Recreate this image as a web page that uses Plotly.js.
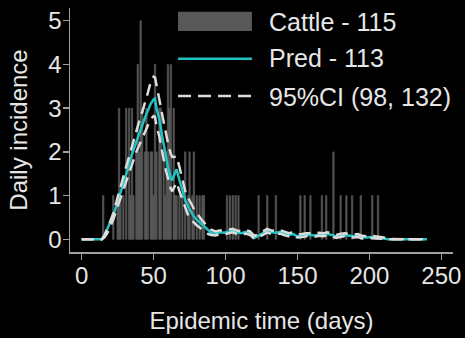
<!DOCTYPE html>
<html>
<head>
<meta charset="utf-8">
<script src="https://cdn.plot.ly/plotly-3.0.1.min.js"></script>
<style>html,body{margin:0;padding:0;background:#000;}#chart{width:465px;height:338px;}</style>
</head>
<body>
<div id="chart"></div>
<script>
// Observed daily cattle cases (days with at least one case)
const case_days   = [15,22,25,26,27,29,31,33,34,35,36,38,39,40,41,42,44,45,46,48,49,50,51,52,54,55,57,58,59,60,61,62,64,65,66,68,70,72,74,75,77,78,80,82,84,85,101,103,105,107,109,123,129,135,152,155,159,167,170,175,180,184,188,194,202,206];
const case_counts = [1,1,1,3,1,1,3,3,1,3,1,2,4,2,5,3,2,3,2,2,2,1,4,2,3,3,2,1,2,4,3,4,3,1,1,1,1,2,1,2,1,2,1,1,1,1,1,1,1,1,1,1,1,1,1,1,1,1,1,2,1,1,1,1,1,1];

// Model prediction and 95% CI
const pred_days = [0,14,16,18,20,22,24,26,28,30,32,34,36,38,40,42,44,46,48,50,51,52,54,56,58,60,62,63,64,66,68,70,72,74,76,78,80,82,84,86,88,90,93,96,99,102,105,108,111,114,117,120,123,126,129,132,135,138,141,144,147,150,153,156,159,162,165,168,171,174,177,180,183,186,189,192,195,198,201,204,207,210,213,220,230,240];
const pred  = [0,0,0.1,0.25,0.4,0.55,0.75,0.95,1.15,1.35,1.6,1.85,2.05,2.2,2.4,2.6,2.78,2.95,3.1,3.2,3.22,3.0,2.75,2.35,1.95,1.65,1.4,1.35,1.45,1.6,1.35,1.1,0.9,0.75,0.62,0.52,0.45,0.4,0.33,0.27,0.2,0.15,0.13,0.16,0.15,0.18,0.2,0.16,0.14,0.17,0.14,0.03,0.08,0.14,0.2,0.16,0.15,0.17,0.13,0.1,0.12,0.07,0.08,0.1,0.1,0.09,0.11,0.1,0.12,0.1,0.06,0.09,0.1,0.08,0.07,0.08,0.05,0.04,0.05,0.04,0.04,0.02,0,0,0,0];
const upper = [0,0,0.1,0.25,0.42,0.6,0.85,1.1,1.3,1.55,1.78,2.02,2.25,2.45,2.7,2.9,3.1,3.35,3.6,3.72,3.7,3.5,3.2,2.85,2.5,2.2,1.95,1.88,1.88,1.9,1.65,1.35,1.1,0.95,0.82,0.7,0.6,0.5,0.42,0.35,0.28,0.22,0.18,0.2,0.2,0.22,0.24,0.2,0.18,0.21,0.18,0.08,0.12,0.18,0.24,0.2,0.19,0.21,0.17,0.14,0.16,0.11,0.12,0.14,0.14,0.13,0.15,0.14,0.16,0.14,0.1,0.13,0.14,0.12,0.11,0.12,0.08,0.07,0.08,0.07,0.06,0.04,0.01,0,0,0];
const lower = [0,0,0.05,0.15,0.3,0.45,0.65,0.85,1.05,1.25,1.45,1.65,1.85,2.0,2.15,2.3,2.45,2.6,2.75,2.82,2.8,2.6,2.35,2.0,1.65,1.4,1.15,1.1,1.18,1.3,1.1,0.9,0.7,0.55,0.45,0.38,0.32,0.27,0.22,0.17,0.12,0.1,0.09,0.12,0.11,0.14,0.16,0.12,0.1,0.13,0.1,0.01,0.05,0.1,0.16,0.12,0.11,0.13,0.09,0.07,0.09,0.04,0.05,0.07,0.07,0.06,0.08,0.07,0.09,0.07,0.03,0.06,0.07,0.05,0.04,0.05,0.02,0.02,0.03,0.02,0.02,0.01,0,0,0,0];

const x_ticks = [0,50,100,150,200,250];
const y_ticks = [0,1,2,3,4,5];
const legend_labels = ['Cattle - 115','Pred - 113','95%CI (98, 132)'];

const FONT = 'Liberation Sans, Arial, sans-serif';
const TXT = '#e6e6e6';
const AX = '#a0a0a0';
const CYAN = '#20c2c4';
const CI = '#dcdcdc';

const traces = [
  {type:'bar', x:case_days, y:case_counts, width:1,
   marker:{color:'#4c4c4c', line:{color:'#6a6a6a', width:0.5}}, hoverinfo:'skip'},
  {type:'scatter', mode:'lines', x:pred_days, y:pred, line:{color:CYAN, width:2.5}},
  {type:'scatter', mode:'lines', x:pred_days, y:upper, line:{color:CI, width:2.5, dash:'12px,7px'}},
  {type:'scatter', mode:'lines', x:pred_days, y:lower, line:{color:CI, width:2.5, dash:'12px,7px'}}
];

const axisCommon = {
  showline:true, linecolor:AX, linewidth:1.5, ticks:'outside', ticklen:6, tickwidth:1.5, tickcolor:AX,
  showgrid:false, zeroline:false, tickfont:{family:FONT, size:24, color:TXT}
};

const layout = {
  width:465, height:338,
  paper_bgcolor:'#000', plot_bgcolor:'#000',
  margin:{l:70, r:12, t:8, b:86},
  showlegend:false, bargap:0,
  font:{family:FONT, color:TXT},
  xaxis:Object.assign({}, axisCommon, {range:[-8.1,258.1], tickvals:x_ticks, ticktext:x_ticks.map(String),
    ticklabelstandoff:-4,
    title:{text:'Epidemic time (days)', font:{family:FONT, size:24, color:TXT}, standoff:24}}),
  yaxis:Object.assign({}, axisCommon, {range:[-0.29,5.29], tickvals:y_ticks, ticktext:y_ticks.map(String),
    ticklabelstandoff:-4,
    title:{text:'Daily incidence', font:{family:FONT, size:24, color:TXT}, standoff:14}}),
  shapes:[
    {type:'rect', xref:'paper', yref:'paper', x0:0.282, x1:0.475, y0:0.906, y1:0.985, fillcolor:'#585858', line:{width:0}},
    {type:'line', xref:'paper', yref:'paper', x0:0.282, x1:0.475, y0:0.792, y1:0.792, line:{color:CYAN, width:2.5}},
    {type:'line', xref:'paper', yref:'paper', x0:0.282, x1:0.475, y0:0.639, y1:0.639, line:{color:CI, width:2.5, dash:'13px,7px'}}
  ],
  annotations:legend_labels.map((t,i)=>({
    xref:'paper', yref:'paper', x:0.514, y:[0.943,0.795,0.637][i], xanchor:'left', yanchor:'middle',
    text:t, showarrow:false, font:{family:FONT, size:25, color:TXT}
  }))
};

Plotly.newPlot('chart', traces, layout, {displayModeBar:false, staticPlot:true});
</script>
</body>
</html>
